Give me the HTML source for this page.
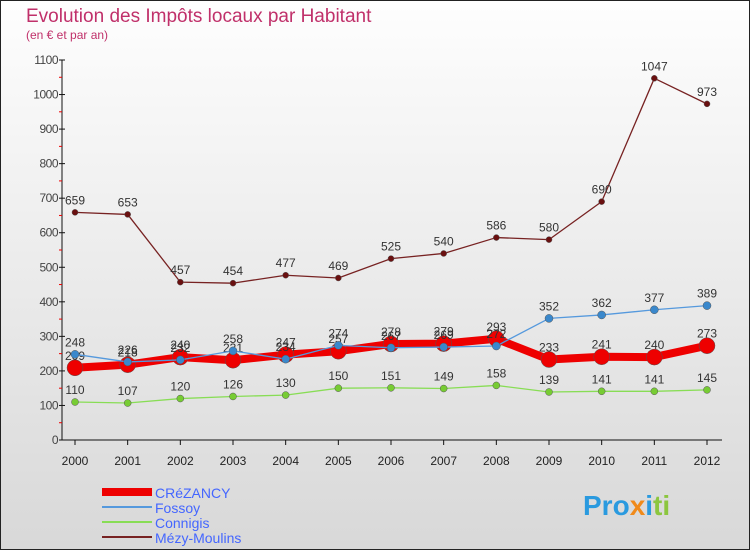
<!DOCTYPE html>
<html><head><meta charset="utf-8"><style>
body{margin:0;width:750px;height:550px;overflow:hidden;font-family:"Liberation Sans",sans-serif}
svg{display:block}
</style></head><body>
<svg width="750" height="550" id="c">
<defs><linearGradient id="bg" x1="0" y1="0" x2="0" y2="1"><stop offset="0" stop-color="#fefefe"/><stop offset="1" stop-color="#d8d8d8"/></linearGradient></defs>
<rect x="0.5" y="0.5" width="749" height="549" fill="url(#bg)" stroke="#222"/>
<text x="26" y="22" font-size="19" fill="#c0306a">Evolution des Impôts locaux par Habitant</text>
<text x="26" y="39" font-size="12" fill="#c0306a">(en € et par an)</text>
<g id="axes"></g>
<g id="series"></g>
<g>
<line x1="102" y1="492" x2="152" y2="492" stroke="#ee0000" stroke-width="8"/>
<text x="155" y="498" font-size="14" fill="#4466ff">CRéZANCY</text>
<line x1="102" y1="507" x2="152" y2="507" stroke="#5599dd" stroke-width="2"/>
<text x="155" y="513" font-size="14" fill="#4466ff">Fossoy</text>
<line x1="102" y1="522" x2="152" y2="522" stroke="#88dd55" stroke-width="2"/>
<text x="155" y="528" font-size="14" fill="#4466ff">Connigis</text>
<line x1="102" y1="537" x2="152" y2="537" stroke="#772222" stroke-width="2"/>
<text x="155" y="543" font-size="14" fill="#4466ff">Mézy-Moulins</text>
</g>
<text x="583" y="515" font-size="28" font-weight="bold" fill="#2a9adf">Pro<tspan fill="#f08a1a">x</tspan><tspan fill="#2a9adf">i</tspan><tspan fill="#8cc63f">ti</tspan></text>
</svg>
<script>
const years=[2000,2001,2002,2003,2004,2005,2006,2007,2008,2009,2010,2011,2012];
const crezancy=[209,218,240,231,247,257,278,279,293,233,241,240,273];
const fossoy=[248,226,232,258,234,274,267,269,272,352,362,377,389];
const connigis=[110,107,120,126,130,150,151,149,158,139,141,141,145];
const mezy=[659,653,457,454,477,469,525,540,586,580,690,1047,973];
const yTicks=[0,100,200,300,400,500,600,700,800,900,1000,1100];
const NS="http://www.w3.org/2000/svg";
const x=i=>75+i*(707-75)/(years.length-1);
const y=v=>440-v*(380/1100);
function mk(tag,attrs,parent){const e=document.createElementNS(NS,tag);for(const k in attrs)e.setAttribute(k,attrs[k]);parent.appendChild(e);return e;}
const ax=document.getElementById('axes');
let l=mk('line',{x1:62,y1:y(1100),x2:62,y2:440,stroke:'#111'},ax);


l=mk('line',{x1:62,y1:440,x2:722,y2:440,stroke:'#111'},ax);


yTicks.forEach(v=>{
 mk('line',{x1:59,y1:y(v),x2:65,y2:y(v),stroke:'#111'},ax);
 if(v<1100)mk('line',{x1:59,y1:y(v+50),x2:62,y2:y(v+50),stroke:'#e00'},ax);
 const t=mk('text',{x:58,y:y(v)+4,'font-size':12,'text-anchor':'end',fill:'#444','letter-spacing':'-0.5'},ax);
 t.textContent=v;
 
 
});
years.forEach((yr,i)=>{
 mk('line',{x1:x(i),y1:440,x2:x(i),y2:445,stroke:'#111'},ax);
 const t=mk('text',{x:x(i),y:465,'font-size':12,'text-anchor':'middle',fill:'#222'},ax);
 t.textContent=yr;
 
 
});
const sg=document.getElementById('series');
function series(name,vals,color,w,r,dot,labels){
 const g=mk('g',{},sg);
 
 
 const p=mk('polyline',{points:vals.map((v,i)=>x(i)+','+y(v)).join(' '),fill:'none',stroke:color,'stroke-width':w,'stroke-linejoin':'round'},g);
 
 
 vals.forEach((v,i)=>{
  const c=mk('circle',{cx:x(i),cy:y(v),r:r,fill:dot,stroke:'#555','stroke-width':0.5},g);
  
  
  if(labels){const t=mk('text',{x:x(i),y:y(v)-8,'font-size':12,'text-anchor':'middle',fill:'#333'},g);
  t.textContent=v;
  
  }
 });
}
series('mezy-moulins',mezy,'#772222',1.3,3,'#6a1010',true);
series('connigis',connigis,'#88dd55',1.3,3.5,'#77cc33',true);
series('crezancy',crezancy,'#ee0000',8,8,'#ee0000',true);
series('fossoy',fossoy,'#5599dd',1.3,4,'#3a88cc',true);
</script>
</body></html>
